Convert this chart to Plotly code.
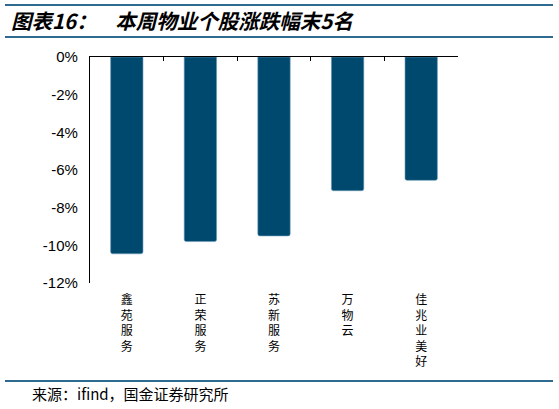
import plotly.graph_objects as go

categories = ["鑫苑服务", "正荣服务", "苏新服务", "万物云", "佳兆业美好"]
values = [-10.45, -9.8, -9.5, -7.1, -6.55]
y_ticks = [0, -2, -4, -6, -8, -10, -12]
y_tick_labels = ["0%", "-2%", "-4%", "-6%", "-8%", "-10%", "-12%"]
title_text = "图表16：\u00a0\u00a0\u00a0\u00a0本周物业个股涨跌幅末5名"
source_text = "来源：ifind，国金证券研究所"

vertical_labels = ["<br>".join(list(c)) for c in categories]

W, H = 559, 409
plot_x = [90 / W, 458 / W]
plot_y = [(H - 283) / H, (H - 57) / H]
rule_x = [5 / W, 553 / W]
rule_positions = {"xaxis3": (H - 5) / H, "xaxis4": (H - 37) / H, "xaxis5": (H - 381) / H}

fig = go.Figure()
fig.add_trace(go.Bar(
    x=categories, y=values,
    marker=dict(color="#00496E", line=dict(color="#6C9CBB", width=0.6)),
    width=0.44, hoverinfo="skip", showlegend=False,
))
# invisible traces so that the helper axes are drawn
for ax in ["x2", "x3", "x4", "x5"]:
    fig.add_trace(go.Scatter(x=categories, y=values, xaxis=ax, yaxis="y", mode="markers",
                             marker=dict(opacity=0), hoverinfo="skip", showlegend=False))

rule_axis = dict(showline=True, linecolor="#2E6A8E", linewidth=2, ticks="",
                 showticklabels=False, showgrid=False, zeroline=False,
                 domain=rule_x, anchor="free", automargin=False)

fig.update_layout(
    width=W, height=H,
    margin=dict(l=0, r=0, t=0, b=0),
    paper_bgcolor="white", plot_bgcolor="rgba(0,0,0,0)",
    barcornerradius=2,
    font=dict(family="Liberation Sans, Arial, sans-serif", color="black"),
    xaxis=dict(
        domain=plot_x, anchor="y",
        tickmode="array", tickvals=categories, ticktext=vertical_labels,
        tickfont=dict(family="Noto Sans CJK SC", size=12, color="black"),
        showline=False, ticks="", showgrid=False, zeroline=False, tickangle=0,
        ticklabelstandoff=8, automargin=False,
    ),
    xaxis2=dict(
        overlaying="x", matches="x", side="top", anchor="y",
        showline=True, linecolor="black", linewidth=1.2,
        ticks="inside", ticklen=4, tickcolor="black", tickwidth=1,
        tickson="boundaries", showticklabels=False, showgrid=False, zeroline=False,
        automargin=False,
    ),
    xaxis3=dict(rule_axis, position=rule_positions["xaxis3"]),
    xaxis4=dict(rule_axis, position=rule_positions["xaxis4"]),
    xaxis5=dict(rule_axis, position=rule_positions["xaxis5"]),
    yaxis=dict(
        domain=plot_y, anchor="x",
        range=[-12, 0], tickvals=y_ticks, ticktext=y_tick_labels,
        tickfont=dict(size=15, color="black"),
        showline=True, linecolor="black", linewidth=1.2,
        ticks="", showgrid=False, zeroline=False, ticklabelstandoff=8,
        automargin=False,
    ),
    annotations=[
        dict(text="<b><i>" + title_text + "</i></b>", xref="paper", yref="paper",
             x=9 / W, y=(H - 20) / H, xanchor="left", yanchor="middle", showarrow=False,
             font=dict(family="Noto Sans CJK SC", size=20.5, color="black")),
        dict(text=source_text, xref="paper", yref="paper",
             x=30 / W, y=(H - 393) / H, xanchor="left", yanchor="middle", showarrow=False,
             font=dict(family="Noto Sans CJK SC", size=15, color="black")),
    ],
)

fig.write_html("out.html", config={"displayModeBar": False},
               post_script="document.body.style.margin='0';")
